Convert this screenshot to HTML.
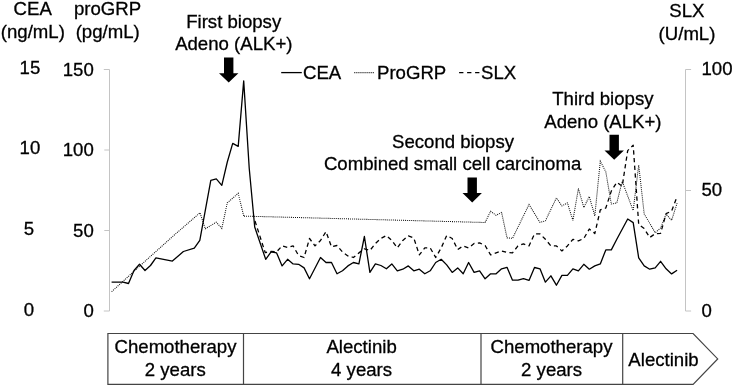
<!DOCTYPE html>
<html><head><meta charset="utf-8"><title>Tumor markers</title>
<style>
html,body{margin:0;padding:0;background:#fff;}
svg{display:block;}
text{font-family:"Liberation Sans",sans-serif;font-size:18.6px;fill:#000;stroke:#000;stroke-width:0.3px;}
</style></head><body>
<svg width="733" height="386" viewBox="0 0 733 386">
<rect width="733" height="386" fill="#fff"/>
<g stroke="#c4c4c4" stroke-width="1" fill="none" stroke-linecap="square">
<polyline points="104.3,69.5 109.5,69.5 109.5,311.0 104.3,311.0"/>
<polyline points="690.6,69.5 685.5,69.5 685.5,311.0 690.6,311.0"/>
<line x1="104.3" y1="150.0" x2="109.5" y2="150.0" stroke-linecap="butt"/>
<line x1="104.3" y1="230.5" x2="109.5" y2="230.5" stroke-linecap="butt"/>
<line x1="685.5" y1="190.5" x2="691" y2="190.5" stroke-linecap="butt"/>
</g>
<polyline points="111.6,291.7 144.2,262.0 174.3,235.0 200.0,212.8 205.3,228.8 216.3,222.2 221.8,228.4 227.3,202.9 238.2,193.3 243.7,216.1" fill="none" stroke="#111" stroke-width="1.05" stroke-dasharray="1 1.05"/>
<polyline points="243.7,216.1 485.1,222.5" fill="none" stroke="#111" stroke-width="1.05" stroke-dasharray="1 1.04" stroke-dashoffset="-0.3"/>
<polyline points="485.1,222.5 490.6,211.3 496.1,215.3 501.6,212.5 507.0,237.8 512.5,238.4 529.0,204.5 540.0,222.4 545.4,220.8 556.4,197.9 561.9,205.9 567.4,202.9 572.9,220.4 578.4,188.5 583.8,207.5 589.3,196.5 594.8,215.9 600.3,161.2 605.8,171.8 611.3,204.0 616.8,203.0 622.2,181.5 633.2,210.5 638.7,165.0 644.2,214.0 649.7,223.2 655.2,232.8 660.6,228.0 666.1,214.2 671.6,220.3 677.1,203.2" fill="none" stroke="#111" stroke-width="1.05" stroke-dasharray="1 1.05"/>
<polyline points="255.0,221.0 265.2,252.6 271.1,251.5 276.6,251.9 282.1,245.9 287.6,247.5 293.1,245.9 298.6,255.5 304.1,257.5 309.5,238.5 315.0,245.9 320.5,240.5 326.0,231.6 331.5,246.9 337.0,245.5 342.5,251.9 347.9,255.9 353.4,257.5 358.9,252.9 364.4,248.9 369.9,250.5 375.4,243.5 380.9,238.5 386.4,235.5 391.8,240.5 397.3,247.9 402.8,240.5 408.3,235.9 413.8,237.9 419.3,254.9 424.8,247.9 430.2,247.9 435.7,257.5 441.2,247.9 446.7,235.5 452.2,238.5 457.7,249.5 463.2,245.9 468.6,247.9 474.1,243.5 479.6,242.9 485.1,245.5 490.6,254.9 496.1,252.9 501.6,250.9 507.0,252.5 512.5,252.9 518.0,245.9 523.5,243.9 529.0,245.9 534.5,233.9 540.0,233.9 545.4,239.3 550.9,245.9 556.4,245.9 561.9,250.9 567.4,245.9 572.9,239.3 578.4,240.9 583.8,238.5 589.3,229.0 594.8,233.5 600.3,209.9 605.8,208.0 611.3,191.1 616.8,182.3 622.2,186.2 627.7,150.6 633.2,145.2 638.7,224.5 644.2,228.6 649.7,237.5 655.2,233.7 660.6,233.3 666.1,213.7 671.6,211.0 677.1,196.5" fill="none" stroke="#000" stroke-width="1.3" stroke-dasharray="4.3 3.4" stroke-linejoin="round"/>
<polyline points="111.6,282.2 123.0,282.1 128.5,283.5 134.0,270.5 139.5,264.3 145.0,270.5 150.5,265.5 155.9,257.9 172.4,261.1 183.4,251.5 194.3,248.2 199.8,240.4 210.8,180.3 216.3,178.9 221.8,185.3 227.3,162.0 232.7,143.4 238.2,146.4 243.7,80.9 249.2,168.0 254.7,227.0 265.7,259.3 271.1,251.9 276.6,252.9 282.1,265.9 287.6,259.3 293.1,263.9 298.6,264.3 304.1,267.9 309.5,278.8 320.5,257.5 326.0,262.5 331.5,262.5 337.0,273.8 342.5,270.8 347.9,265.9 353.4,262.5 358.9,263.9 364.4,236.5 369.9,272.4 375.4,263.9 380.9,265.5 386.4,268.8 391.8,263.9 397.3,270.8 402.8,269.2 408.3,265.9 413.8,270.8 419.3,269.2 424.8,273.8 430.2,270.8 435.7,262.5 441.2,259.3 446.7,264.9 452.2,272.4 457.7,267.9 463.2,273.8 468.6,262.5 474.1,272.4 479.6,270.8 485.1,278.8 490.6,273.8 496.1,273.8 501.6,268.8 507.0,267.3 512.5,280.2 518.0,280.2 523.5,278.6 529.0,280.4 534.5,267.5 540.0,268.8 545.4,282.2 550.9,275.8 556.4,285.2 561.9,275.4 567.4,275.4 572.9,268.8 578.4,270.8 583.8,264.3 589.3,269.2 594.8,265.9 600.3,263.9 605.8,249.9 611.3,249.9 616.8,239.3 627.7,219.0 633.2,222.6 638.7,257.9 644.2,265.9 649.7,269.2 655.2,267.9 660.6,261.3 666.1,268.8 671.6,273.9 677.1,270.3" fill="none" stroke="#000" stroke-width="1.3" stroke-linejoin="round"/>
<line x1="281.2" y1="72.6" x2="301.8" y2="72.6" stroke="#000" stroke-width="1.3"/>
<line x1="354.3" y1="72.6" x2="374.5" y2="72.6" stroke="#111" stroke-width="1.05" stroke-dasharray="1 1.05"/>
<line x1="459.1" y1="72.6" x2="479.7" y2="72.6" stroke="#000" stroke-width="1.3" stroke-dasharray="4.3 3.7"/>
<text x="303" y="78.7" text-anchor="start">CEA</text>
<text x="377" y="78.7" text-anchor="start">ProGRP</text>
<text x="481" y="78.7" text-anchor="start">SLX</text>
<text x="32.7" y="15" text-anchor="middle">CEA</text>
<text x="32.8" y="38" text-anchor="middle">(ng/mL)</text>
<text x="107.5" y="15" text-anchor="middle">proGRP</text>
<text x="107.7" y="38" text-anchor="middle">(pg/mL)</text>
<text x="686.9" y="17" text-anchor="middle">SLX</text>
<text x="687" y="39.8" text-anchor="middle">(U/mL)</text>
<text x="29.9" y="74.4" text-anchor="middle">15</text>
<text x="29.9" y="154.2" text-anchor="middle">10</text>
<text x="29" y="235.2" text-anchor="middle">5</text>
<text x="29" y="316.3" text-anchor="middle">0</text>
<text x="93.8" y="75.8" text-anchor="end">150</text>
<text x="93.8" y="156.0" text-anchor="end">100</text>
<text x="93.8" y="236.9" text-anchor="end">50</text>
<text x="93.8" y="317.3" text-anchor="end">0</text>
<text x="701.5" y="75.4" text-anchor="start">100</text>
<text x="701.5" y="195.9" text-anchor="start">50</text>
<text x="701.5" y="316.5" text-anchor="start">0</text>
<text x="233.7" y="27.5" text-anchor="middle">First biopsy</text>
<text x="233.8" y="49.9" text-anchor="middle">Adeno (ALK+)</text>
<text x="453" y="147.6" text-anchor="middle">Second biopsy</text>
<text x="452.6" y="170" text-anchor="middle">Combined small cell carcinoma</text>
<text x="602.9" y="105.1" text-anchor="middle">Third biopsy</text>
<text x="602.9" y="127.6" text-anchor="middle">Adeno (ALK+)</text>
<polygon points="224.0,57.6 233.4,57.6 233.4,73.2 238.4,73.2 228.7,82.6 219.0,73.2 224.0,73.2" fill="#000"/>
<polygon points="467.5,177.5 476.9,177.5 476.9,193.1 481.9,193.1 472.2,202.5 462.5,193.1 467.5,193.1" fill="#000"/>
<polygon points="609.5,134.8 618.9,134.8 618.9,150.4 623.9,150.4 614.2,159.8 604.5,150.4 609.5,150.4" fill="#000"/>
<g stroke="#444" stroke-width="1.2" fill="#fff">
<polygon points="107.9,333.5 693.1,333.5 717.7,358.9 693.1,384.3 107.9,384.3"/>
<line x1="243.5" y1="333.5" x2="243.5" y2="384.3"/>
<line x1="481" y1="333.5" x2="481" y2="384.3"/>
<line x1="622.7" y1="333.5" x2="622.7" y2="384.3"/>
</g>
<text x="175.5" y="353.1" text-anchor="middle">Chemotherapy</text>
<text x="175.3" y="376.2" text-anchor="middle">2 years</text>
<text x="361.6" y="353.2" text-anchor="middle">Alectinib</text>
<text x="361.6" y="376" text-anchor="middle">4 years</text>
<text x="551.5" y="353" text-anchor="middle">Chemotherapy</text>
<text x="551.6" y="375.8" text-anchor="middle">2 years</text>
<text x="663.5" y="365.7" text-anchor="middle">Alectinib</text>
</svg>
</body></html>
